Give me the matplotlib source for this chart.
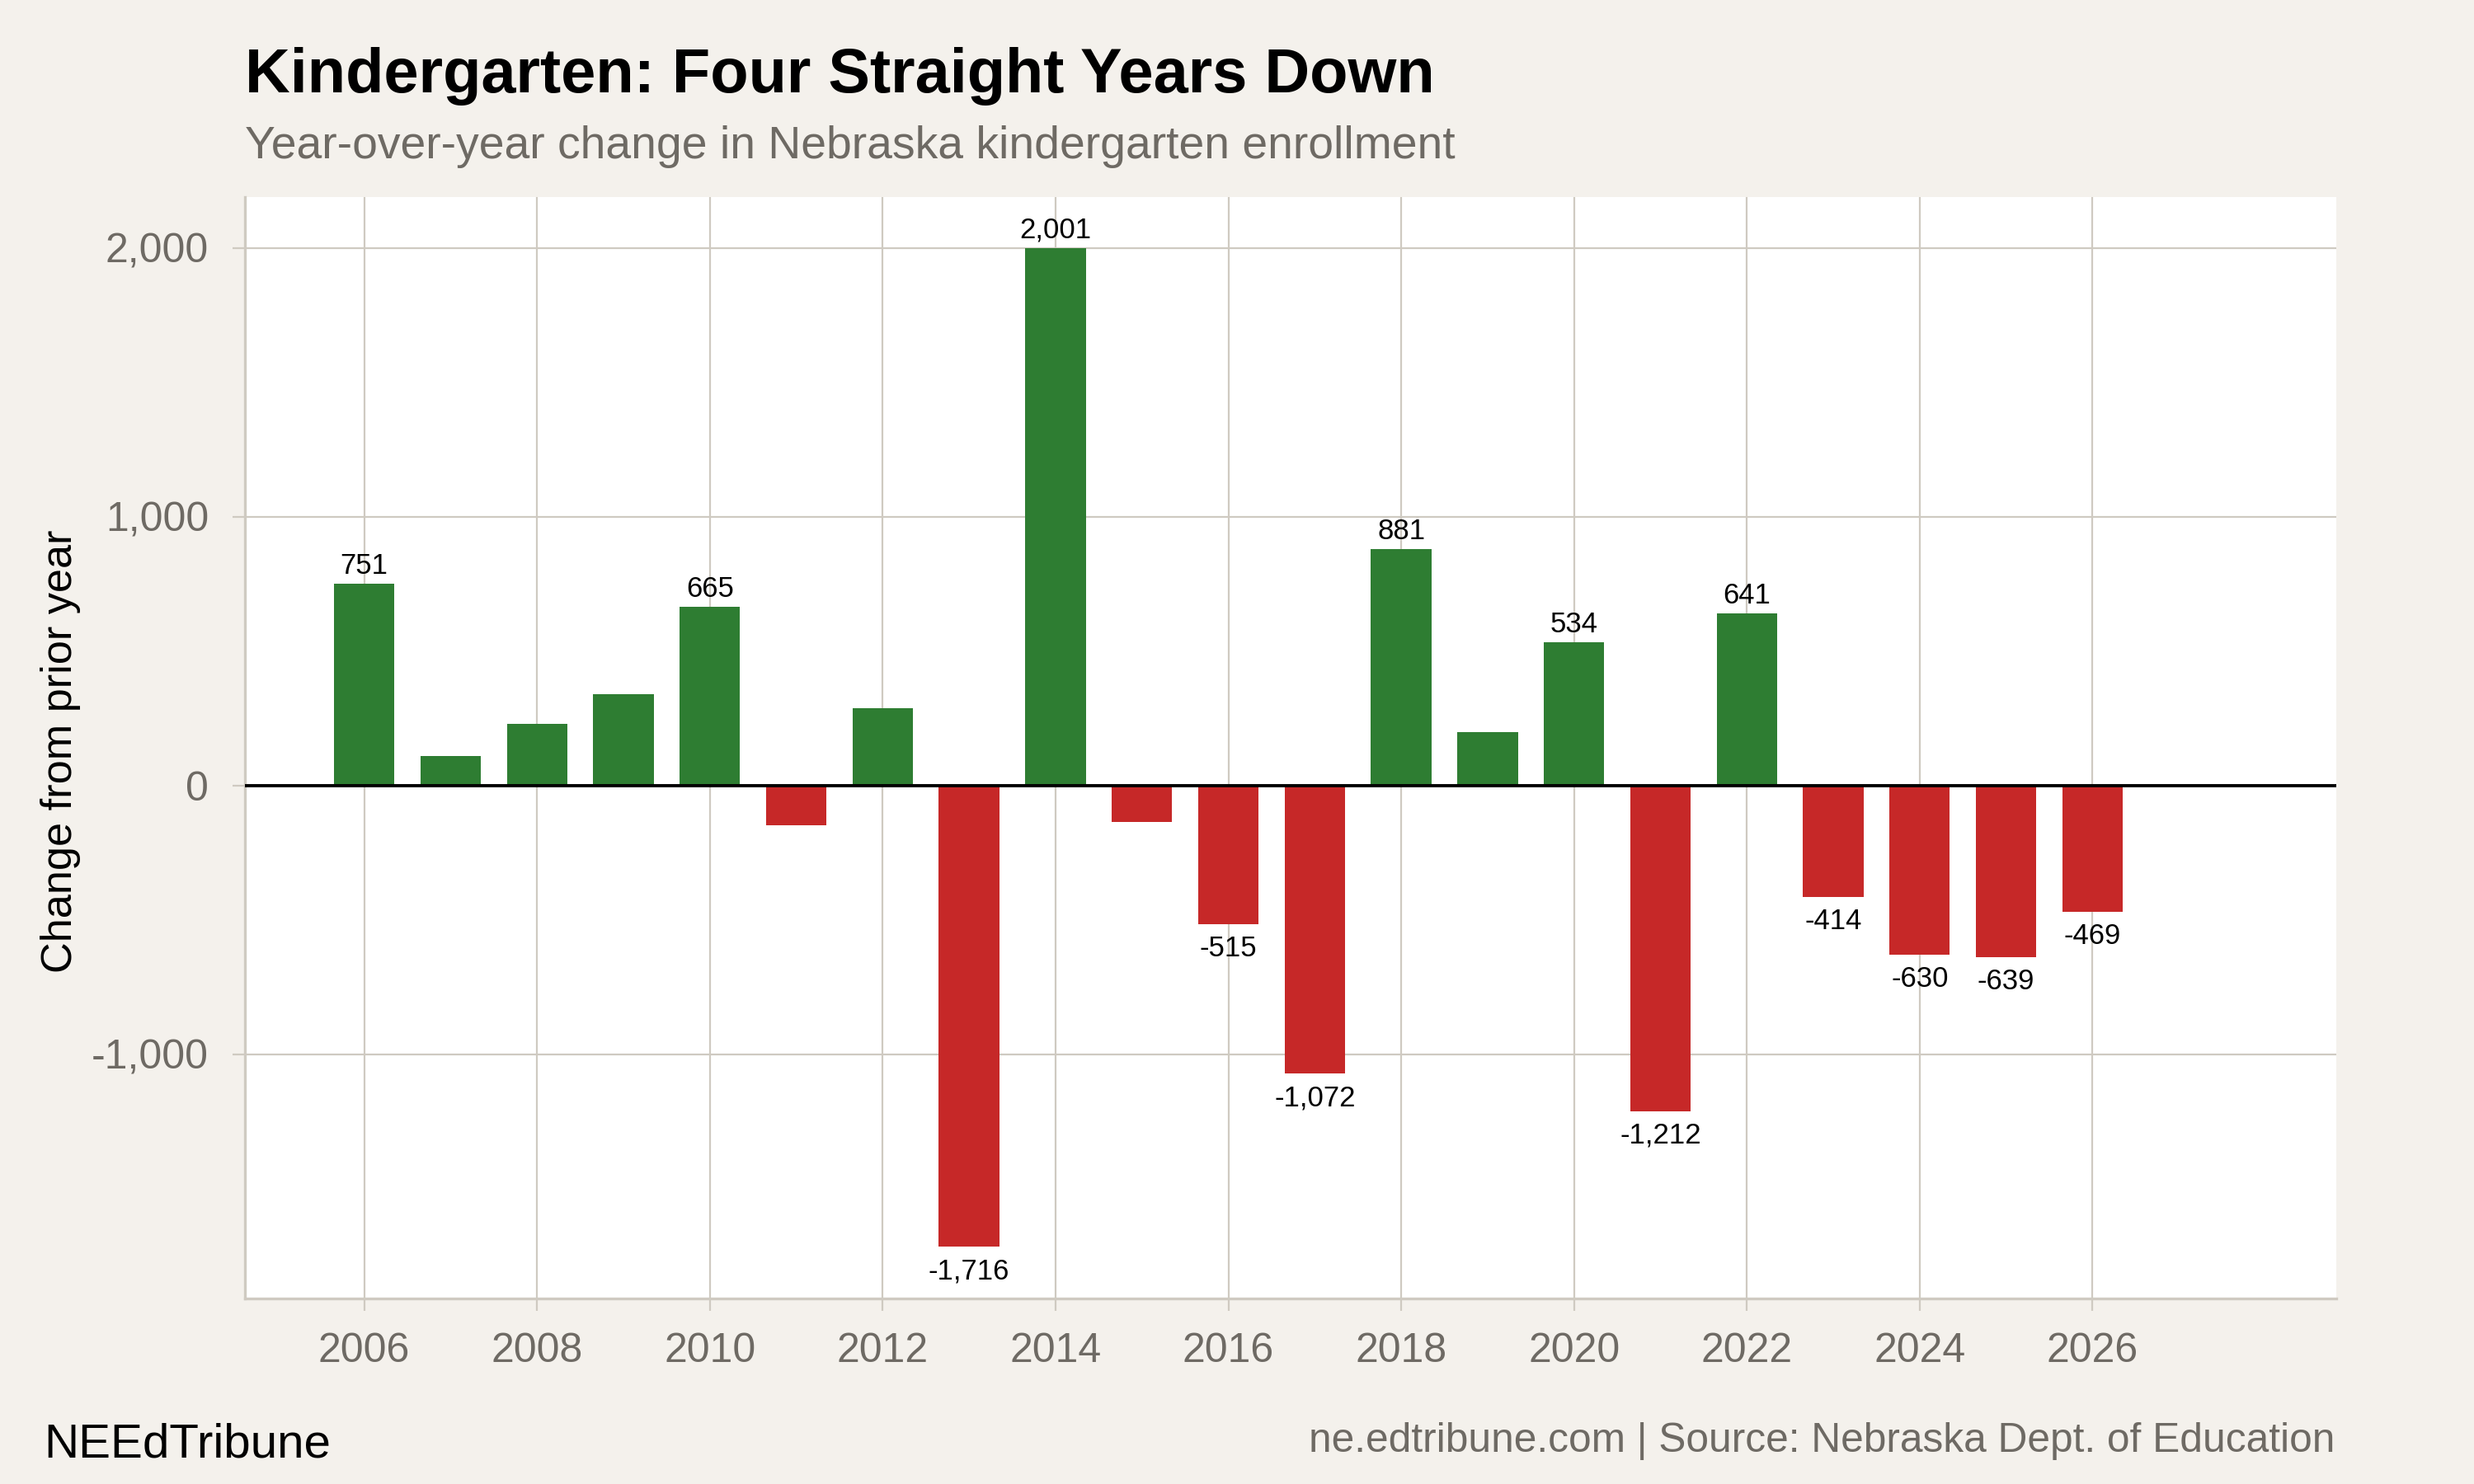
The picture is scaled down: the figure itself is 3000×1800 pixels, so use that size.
import matplotlib
matplotlib.use("Agg")
import matplotlib.pyplot as plt
from matplotlib.ticker import FuncFormatter

# ---- data ----
years = [2006, 2007, 2008, 2009, 2010, 2011, 2012, 2013, 2014, 2015, 2016,
         2017, 2018, 2019, 2020, 2021, 2022, 2023, 2024, 2025, 2026]
changes = [751, 111, 231, 340, 665, -148, 289, -1716, 2001, -135, -515,
           -1072, 881, 198, 534, -1212, 641, -414, -630, -639, -469]
x_ticks = list(range(2006, 2027, 2))
y_ticks = [-1000, 0, 1000, 2000]
label_threshold = 400

title = "Kindergarten: Four Straight Years Down"
subtitle = "Year-over-year change in Nebraska kindergarten enrollment"
ylabel = "Change from prior year"
brand = "NEEdTribune"
source = "ne.edtribune.com | Source: Nebraska Dept. of Education"

# ---- style ----
BG = "#F4F1EC"
GRID = "#CFCAC1"
GREEN = "#2E7D32"
RED = "#C62828"
GRAY_TXT = "#6E6A64"
plt.rcParams["font.family"] = ["Liberation Sans", "DejaVu Sans"]

fig = plt.figure(figsize=(15, 9), dpi=200, facecolor=BG)
ax = fig.add_axes([0.099, 0.125, 0.9443 - 0.099, 0.8672 - 0.125])
ax.set_facecolor("white")

colors = [GREEN if v >= 0 else RED for v in changes]
ax.bar(years, changes, width=0.7, color=colors, zorder=3)
ax.axhline(0, color="black", lw=1.4, zorder=4)

for yr, v in zip(years, changes):
    if abs(v) >= label_threshold:
        if v >= 0:
            ax.annotate(f"{v:,}", (yr, v), xytext=(0, 4.3), textcoords="offset points",
                        ha="center", va="baseline", fontsize=12.5, color="black", zorder=5)
        else:
            ax.annotate(f"{v:,}", (yr, v), xytext=(0, -4.6), textcoords="offset points",
                        ha="center", va="top", fontsize=12.5, color="black", zorder=5)

ax.set_xlim(2004.62, 2028.82)
ax.set_ylim(-1908, 2190)
ax.set_xticks(x_ticks)
ax.set_yticks(y_ticks)
ax.yaxis.set_major_formatter(FuncFormatter(lambda v, p: f"{int(v):,}"))
ax.grid(True, color=GRID, lw=0.8, zorder=0)
ax.set_axisbelow(True)

for s in ["top", "right"]:
    ax.spines[s].set_visible(False)
for s in ["left", "bottom"]:
    ax.spines[s].set_color(GRID)
    ax.spines[s].set_linewidth(1.2)

ax.tick_params(axis="x", length=5.4, width=0.8, color=GRID, pad=9.5,
               labelsize=18, labelcolor=GRAY_TXT)
ax.tick_params(axis="y", length=5.4, width=0.8, color=GRID, pad=10.4,
               labelsize=18, labelcolor=GRAY_TXT)

fig.text(0.0245, 0.494, ylabel, rotation=90, ha="center", va="center",
         fontsize=18.8, color="black")

fig.text(0.099, 1 - 112 / 1800, title, ha="left", va="baseline",
         fontsize=27.25, fontweight="bold", color="black")
fig.text(0.099, 1 - 192 / 1800, subtitle, ha="left", va="baseline",
         fontsize=19.9, color=GRAY_TXT)

fig.text(53 / 3000, 1 - 1767 / 1800, brand, ha="left", va="baseline",
         fontsize=21.0, color="black")
fig.text(2831 / 3000, 1 - 1761 / 1800, source, ha="right", va="baseline",
         fontsize=17.85, color=GRAY_TXT)

fig.savefig("out.png", dpi=200, facecolor=BG)
